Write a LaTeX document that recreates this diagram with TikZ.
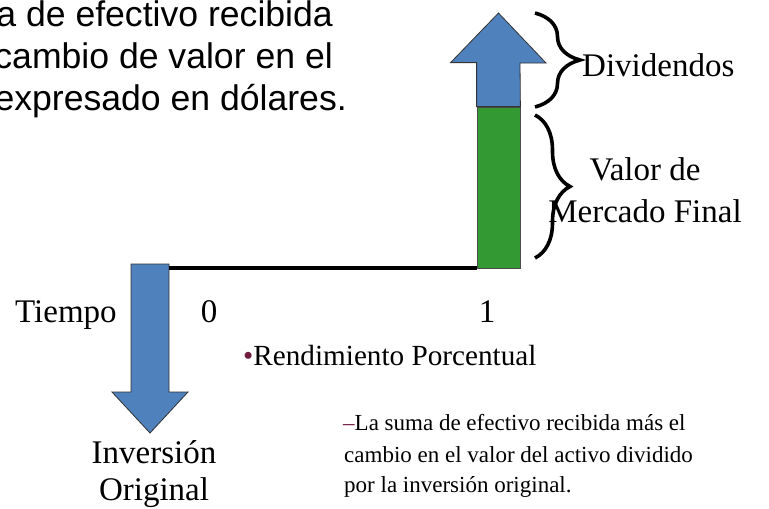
\documentclass[tikz,border=0pt]{standalone}
\usepackage{fontspec}
\setmainfont{Liberation Serif}
\newfontfamily\arialfont{Liberation Sans}
\usetikzlibrary{calc,positioning,decorations.pathreplacing}
\definecolor{flujoazul}{RGB}{79,129,189}
\definecolor{flujoverde}{RGB}{51,153,51}
\definecolor{vinoto}{RGB}{112,28,64}
\tikzset{
  flecha/.style={fill=flujoazul,draw=black!80,line width=0.8pt},
  barra/.style={fill=flujoverde,draw=black!70,line width=0.8pt},
  llave/.style={decorate,decoration={brace,amplitude=#1},line width=3.6pt},
  etiqueta/.style={font=\fontsize{33}{37}\selectfont,inner sep=0pt,align=center},
  nota/.style={font=\fontsize{23}{31}\selectfont,inner sep=0pt,anchor=base west},
  texto/.style={font=\arialfont\fontsize{35.6}{42}\selectfont,inner sep=0pt}
}
\begin{document}
\begin{tikzpicture}[x=1pt,y=-1pt]
  \useasboundingbox (0,0) rectangle (769,509);
  \clip (0,0) rectangle (769,509);
  % texto cortado arriba
  \node (t1) [texto,anchor=base east] at (333,26) {a de efectivo recibida};
  \node (t2) [texto,anchor=base east] at (333,68) {cambio de valor en el};
  \node (t3) [texto,anchor=base east] at (347,110) {expresado en d\'olares.};
  % barra del valor final y flecha de dividendos
  \node (mercado) [barra,minimum width=43pt,minimum height=161pt,inner sep=0pt] at (498.5,187.5) {};
  \draw[flecha] (mercado.north west) -- ++(0,-44) -- ++(-26,0) -- (498.5,13)
        -- (546,63) -- ++(-26,0) -- (mercado.north east) -- cycle;
  % flecha de la inversion
  \coordinate (inv) at (150,264);
  \draw[flecha] ($(inv)+(-19,0)$) -- ($(inv)+(19,0)$) -- ++(0,128) -- ++(19,0)
        -- (150,433) coordinate (punta) -- (112,392) -- ++(19,0) -- cycle;
  % linea de tiempo
  \coordinate (t0) at (169,268);
  \draw[line width=4pt] (t0) -- (t0 -| mercado.west);
  % llaves
  \draw[llave=45pt] (535,13) -- (535,107);
  \draw[llave=35pt] (535,115) -- (535,258);
  \node (div) [etiqueta,anchor=base west] at (582,76) {Dividendos};
  \node (vm) [etiqueta,anchor=base] at (645,180) {Valor de};
  \node (vm2) [etiqueta,anchor=base] at (645,222) {Mercado Final};
  % ejes
  \node (tiempo) [etiqueta,anchor=base west] at (15,322) {Tiempo};
  \node (cero) [etiqueta,anchor=base] at (209,322) {0};
  \node (uno) [etiqueta,anchor=base] at (487,322) {1};
  \node (inversion) [etiqueta,anchor=base] at (154,463) {Inversi\'on};
  \node (original) [etiqueta,anchor=base] at (154,500) {Original};
  % rendimiento porcentual
  \node (rend) [font=\fontsize{29.2}{34}\selectfont,inner sep=0pt,anchor=base west] at (243,365)
        {{\color{vinoto}\textbullet}Rendimiento Porcentual};
  \node (def1) [nota] at (343,430) {{\color{vinoto}\textendash}La suma de efectivo recibida m\'as el};
  \node (def2) [nota] at (344,462) {cambio en el valor del activo dividido};
  \node (def3) [nota] at (344,492) {por la inversi\'on original.};
\end{tikzpicture}
\end{document}
